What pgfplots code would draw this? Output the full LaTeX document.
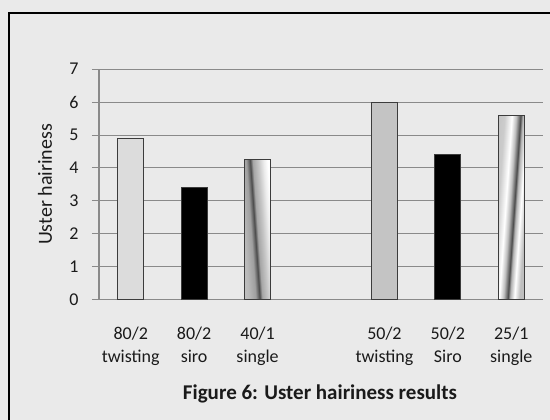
\documentclass[border=0pt]{standalone}
\usepackage{pgfplots}
\pgfplotsset{compat=1.18}
\usepackage{fontspec}
\setmainfont{Carlito}
\definecolor{bg}{HTML}{EAEAEA}
\definecolor{gridgray}{HTML}{8A8A8A}
\definecolor{edge}{HTML}{3C3C3C}
\definecolor{txt}{HTML}{1A1A1A}
\definecolor{lightbar}{HTML}{DCDCDC}
\definecolor{midbar}{HTML}{C4C4C4}
\pgfdeclarehorizontalshading{stripeA}{100bp}{color(0bp)=(white!75!gray); color(30bp)=(gray!55); color(40bp)=(gray!75); color(46bp)=(black!70); color(50bp)=(gray!70); color(58bp)=(gray!45); color(66bp)=(white!85!gray); color(72bp)=(white); color(100bp)=(white)}
\pgfdeclarehorizontalshading{stripeB}{100bp}{color(0bp)=(gray!60); color(32bp)=(gray!40); color(42bp)=(white); color(48bp)=(gray!50); color(54bp)=(black!70); color(57bp)=(gray!60); color(63bp)=(white); color(70bp)=(gray!50); color(100bp)=(gray!50)}
\begin{document}
\begin{tikzpicture}[x=1pt,y=1pt]
\fill[bg] (0,0) rectangle (550,420);
\draw[black, line width=2pt] (9,0) -- (9,407) -- (551,407);
\begin{axis}[
  at={(99pt,120pt)}, anchor=south west,
  scale only axis, width=444pt, height=231pt,
  xmin=-0.5, xmax=6.5, ymin=0, ymax=7,
  ytick={0,1,2,3,4,5,6,7},
  xtick={0,1,2,4,5,6},
  xticklabels={{80/2\\twisting},{80/2\\siro},{40/1\\single},{50/2\\twisting},{50/2\\Siro},{25/1\\single}},
  axis lines*=left,
  axis line style={-, draw=gridgray, line width=1pt},
  ymajorgrids, grid style={draw=gridgray, line width=1pt},
  tick align=outside, major tick length=7pt,
  ytick style={draw=gridgray, line width=1pt},
  xtick style={draw=none},
  /pgf/number format/assume math mode=true,
  ticklabel style={font=\fontsize{18}{23}\selectfont, text=txt},
  xticklabel style={align=center, yshift=-16pt},
  yticklabel style={xshift=-10pt},
  ylabel={Uster hairiness},
  ylabel style={font=\fontsize{20}{22}\selectfont, text=txt, at={(axis description cs:-0.1216,0.5)}, anchor=center},
  ybar, bar width=26pt, bar shift=0pt,
  clip=false,
]
\addplot[fill=lightbar, draw=edge, line width=1pt] coordinates {(0,4.88)};
\addplot[fill=black, draw=edge, line width=1pt] coordinates {(1,3.42) (5,4.42)};
\addplot[shade, shading=stripeA, shading angle=4, draw=edge, line width=1pt] coordinates {(2,4.27)};
\addplot[fill=midbar, draw=edge, line width=1pt] coordinates {(4,6.0)};
\addplot[shade, shading=stripeB, shading angle=-4, draw=edge, line width=1pt] coordinates {(6,5.58)};
\end{axis}
\node[font=\bfseries\fontsize{21}{24}\selectfont, text=txt] at (320,26) {Figure 6: Uster hairiness results};
\pgfresetboundingbox
\useasboundingbox (0,0) rectangle (550,420);
\end{tikzpicture}
\end{document}
